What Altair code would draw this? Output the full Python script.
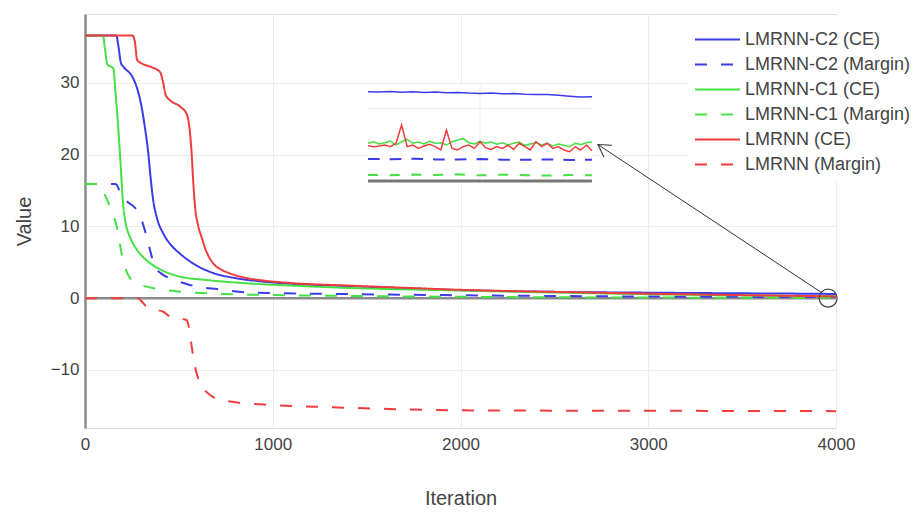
import altair as alt
import pandas as pd

SERIES = ["LMRNN-C2 (CE)", "LMRNN-C2 (Margin)", "LMRNN-C1 (CE)",
          "LMRNN-C1 (Margin)", "LMRNN (CE)", "LMRNN (Margin)"]
BLUE, GREEN, RED = "#3b3be8", "#44e044", "#f03c3c"
COLORS = [BLUE, BLUE, GREEN, GREEN, RED, RED]
DASHES = [[1, 0], [12, 14], [1, 0], [12, 14], [1, 0], [12, 14]]

# ---- main curves (iteration, value) ----
c2_ce_it = [0, 167, 177, 192, 203, 257, 278, 301, 319, 337, 349, 363, 384, 417, 455, 506, 587, 683, 810, 950, 1100, 1400, 1700, 1950, 2200, 2480, 3000, 3500, 3850, 4000]
c2_ce_v = [36.6, 36.6, 35.3, 32.7, 32.3, 30.6, 29.2, 26.7, 23.8, 20.2, 16.9, 13.7, 11.1, 9.0, 7.5, 6.2, 4.65, 3.5, 2.75, 2.3, 2.0, 1.68, 1.38, 1.15, 1.0, 0.88, 0.76, 0.67, 0.615, 0.58]

c2_m_it = [0, 162, 177, 192, 222, 253, 275, 304, 329, 349, 372, 405, 452, 526, 595, 708, 870, 1400, 1900, 2500, 3200, 4000]
c2_m_v = [15.9, 15.9, 15.4, 14.2, 13.5, 12.9, 12.3, 10.7, 8.5, 6.45, 4.35, 3.45, 2.75, 2.1, 1.6, 1.25, 0.8, 0.56, 0.42, 0.3, 0.2, 0.15]

c1_ce_it = [0, 96, 106, 119, 151, 162, 174, 186, 204, 217, 240, 278, 329, 405, 506, 658, 870, 1100, 1400, 1930, 2460, 3000, 3500, 4000]
c1_ce_v = [36.6, 36.6, 34.8, 32.6, 32.0, 28.8, 24.8, 20.2, 12.8, 10.4, 8.5, 6.7, 5.25, 3.95, 3.0, 2.5, 2.05, 1.75, 1.42, 1.1, 0.8, 0.55, 0.38, 0.25]

c1_m_it = [0, 79, 91, 124, 147, 169, 182, 195, 212, 231, 263, 329, 405, 506, 708, 1010, 1520, 2230, 3000, 4000]
c1_m_v = [15.9, 15.9, 15.2, 13.3, 11.7, 10.0, 8.1, 6.25, 4.45, 3.15, 2.3, 1.6, 1.2, 0.9, 0.6, 0.42, 0.28, 0.15, 0.08, 0.04]

l_ce_it = [0, 253, 265, 278, 303, 354, 400, 415, 430, 452, 506, 541, 556, 568, 577, 586, 602, 621, 648, 683, 728, 772, 860, 950, 1100, 1400, 1700, 1950, 2200, 2480, 3000, 3500, 4000]
l_ce_v = [36.6, 36.6, 35.8, 33.2, 32.7, 32.2, 31.5, 30.2, 28.3, 27.6, 26.7, 25.7, 23.8, 20.2, 16.0, 12.8, 10.2, 8.5, 6.4, 4.85, 3.95, 3.45, 2.8, 2.45, 2.1, 1.75, 1.45, 1.2, 1.02, 0.88, 0.62, 0.42, 0.24]

l_m_it = [0, 283, 303, 329, 374, 417, 452, 506, 541, 556, 568, 586, 612, 648, 683, 748, 826, 1003, 1304, 1620, 2100, 3000, 4000]
l_m_v = [0, 0, -0.5, -1.2, -1.6, -1.9, -2.55, -2.85, -3.05, -4.4, -6.7, -9.5, -11.9, -13.1, -13.8, -14.3, -14.6, -14.9, -15.2, -15.45, -15.65, -15.7, -15.75]

# ---- zoomed inset (last iterations) ----
inset_t41 = [3850 + 2.5 * i for i in range(41)]
inset_red = [0.244, 0.237, 0.241, 0.248, 0.237, 0.260, 0.386, 0.237, 0.248, 0.225, 0.241, 0.253, 0.237, 0.214, 0.352, 0.225, 0.214, 0.237, 0.248, 0.225, 0.271, 0.230, 0.218, 0.237, 0.225, 0.248, 0.218, 0.260, 0.237, 0.214, 0.271, 0.237, 0.260, 0.225, 0.237, 0.214, 0.202, 0.237, 0.214, 0.248, 0.209]
inset_green = [0.260, 0.271, 0.255, 0.264, 0.276, 0.248, 0.271, 0.287, 0.260, 0.269, 0.255, 0.274, 0.260, 0.264, 0.248, 0.271, 0.283, 0.292, 0.264, 0.255, 0.274, 0.260, 0.269, 0.253, 0.264, 0.248, 0.260, 0.269, 0.246, 0.255, 0.264, 0.248, 0.260, 0.241, 0.255, 0.246, 0.237, 0.260, 0.251, 0.264, 0.269]
inset_t21 = [3850 + 5 * i for i in range(21)]
inset_blue = [0.616, 0.614, 0.617, 0.612, 0.615, 0.611, 0.613, 0.608, 0.610, 0.606, 0.604, 0.606, 0.601, 0.603, 0.598, 0.596, 0.597, 0.592, 0.585, 0.579, 0.581]
inset_t11 = [3850 + 10 * i for i in range(11)]
inset_blue_m = [0.152, 0.150, 0.153, 0.149, 0.148, 0.151, 0.147, 0.146, 0.149, 0.145, 0.147]
inset_green_m = [0.042, 0.040, 0.044, 0.041, 0.046, 0.039, 0.043, 0.040, 0.038, 0.041, 0.039]
INSET_T = [3850, 3950]
INSET_V = [-0.0138, 0.662]

# annotation: circle on the tail and arrow to the inset
circle_it, circle_v = [3958], [0.0]
arrow_it = [3925, 2732]
arrow_v = [0.74, 21.4]

FONT = "Liberation Sans"
TXT = "#444444"
AXISC = "#8c8c8c"

rows = []
for name, its, vals in [(SERIES[0], c2_ce_it, c2_ce_v), (SERIES[1], c2_m_it, c2_m_v),
                        (SERIES[2], c1_ce_it, c1_ce_v), (SERIES[3], c1_m_it, c1_m_v),
                        (SERIES[4], l_ce_it, l_ce_v), (SERIES[5], l_m_it, l_m_v)]:
    for k, (i, v) in enumerate(zip(its, vals)):
        rows.append({"series": name, "iteration": i, "value": v, "k": k})
df = pd.DataFrame(rows)

xs = alt.Scale(domain=[0, 4000], nice=False, zero=False)
ys = alt.Scale(domain=[-18.1, 39.6], nice=False, zero=False)

x_enc = alt.X("iteration:Q", scale=xs,
              axis=alt.Axis(values=[0, 1000, 2000, 3000, 4000], format="d", grid=True,
                            gridColor="#ececec", domain=False, ticks=False,
                            labelFontSize=17, labelColor=TXT, labelPadding=8,
                            labelFlush=False,
                            title="Iteration", titleFontSize=20, titleColor=TXT,
                            titleFontWeight="normal", titlePadding=36))
y_enc = alt.Y("value:Q", scale=ys,
              axis=alt.Axis(values=[-10, 0, 10, 20, 30], format="d", grid=True,
                            gridColor="#ececec", domain=True, domainColor=AXISC,
                            domainWidth=2.5, ticks=False, labelFontSize=17,
                            labelColor=TXT, labelPadding=6, labelFlush=False,
                            title="Value",
                            titleFontSize=20, titleColor=TXT, titleFontWeight="normal",
                            titlePadding=16))

zero = alt.Chart(pd.DataFrame({"value": [0.0]})).mark_rule(
    color=AXISC, strokeWidth=2.5).encode(y=alt.Y("value:Q", scale=ys))

lines = alt.Chart(df).mark_line(strokeWidth=2, interpolate="monotone").encode(
    x=x_enc, y=y_enc,
    color=alt.Color("series:N", scale=alt.Scale(domain=SERIES, range=COLORS),
                    sort=SERIES, legend=alt.Legend(title=None)),
    strokeDash=alt.StrokeDash("series:N", scale=alt.Scale(domain=SERIES, range=DASHES),
                              sort=SERIES, legend=alt.Legend(title=None)),
    order="k:Q",
)

circle = alt.Chart(pd.DataFrame({"iteration": circle_it, "value": circle_v})).mark_point(
    shape="circle", size=324, filled=False, color="#444444", strokeWidth=1.2, opacity=1
).encode(x=alt.X("iteration:Q", scale=xs), y=alt.Y("value:Q", scale=ys))

arrow = alt.Chart(pd.DataFrame({"iteration": arrow_it, "value": arrow_v, "k": [0, 1]})).mark_line(
    color="#333333", strokeWidth=1).encode(
    x=alt.X("iteration:Q", scale=xs), y=alt.Y("value:Q", scale=ys), order="k:Q")

head = alt.Chart(pd.DataFrame({"iteration": arrow_it[1:], "value": arrow_v[1:]})).mark_point(
    shape="M-1,-0.6L0,0L-1,0.6", size=576, filled=False, color="#333333",
    strokeWidth=1, angle=213.5, opacity=1).encode(
    x=alt.X("iteration:Q", scale=xs), y=alt.Y("value:Q", scale=ys))

main = alt.layer(zero, lines, circle, arrow, head)

# ---- inset with its own scales ----
ixs = alt.Scale(domain=INSET_T, range=[283, 507], nice=False, zero=False)
iys = alt.Scale(domain=INSET_V, range=[169, 71], nice=False, zero=False)


def ix(f="t"):
    return alt.X(f + ":Q", scale=ixs, axis=None)


def iy(f="v"):
    return alt.Y(f + ":Q", scale=iys, axis=None)


bg = alt.Chart(pd.DataFrame({"t": [INSET_T[0]], "t2": [INSET_T[1]],
                             "v": [INSET_V[0]], "v2": [INSET_V[1]]})).mark_rect(
    fill="white").encode(x=ix(), x2="t2:Q", y=iy(), y2="v2:Q")
igrid_v = alt.Chart(pd.DataFrame({"t": [3900], "v": [INSET_V[0]], "v2": [INSET_V[1]]})).mark_rule(
    color="#ececec", strokeWidth=1).encode(x=ix(), y=iy(), y2="v2:Q")
igrid_h = alt.Chart(pd.DataFrame({"t": [INSET_T[0]], "t2": [INSET_T[1]], "v": [0.5]})).mark_rule(
    color="#ececec", strokeWidth=1).encode(x=ix(), x2="t2:Q", y=iy())
izero = alt.Chart(pd.DataFrame({"t": [INSET_T[0]], "t2": [INSET_T[1]], "v": [0.0]})).mark_rule(
    color="#777777", strokeWidth=3).encode(x=ix(), x2="t2:Q", y=iy())


def iline(ts, vs, color, dash=None, width=1.5):
    kw = dict(color=color, strokeWidth=width)
    if dash:
        kw["strokeDash"] = dash
    return alt.Chart(pd.DataFrame({"t": ts, "v": vs})).mark_line(**kw).encode(x=ix(), y=iy())


inset = alt.layer(
    bg, igrid_v, igrid_h, izero,
    iline(inset_t11, inset_green_m, GREEN, [10, 11.7], 2),
    iline(inset_t11, inset_blue_m, BLUE, [11.7, 10], 2),
    iline(inset_t41, inset_green, GREEN),
    iline(inset_t41, inset_red, RED),
    iline(inset_t21, inset_blue, BLUE),
)

chart = alt.layer(main, inset).resolve_scale(x="independent", y="independent").properties(
    width=751, height=414,
    autosize=alt.AutoSizeParams(type="none"),
    padding={"left": 85, "top": 14, "right": 80, "bottom": 88},
    background="white",
).configure_view(stroke=None).configure(font=FONT).configure_legend(
    orient="none", legendX=602, legendY=3, padding=7, fillColor="white",
    symbolType="M-1,0L2.1,0", symbolSize=841, symbolStrokeWidth=2,
    labelFontSize=18, labelColor=TXT, labelFont=FONT, rowPadding=0,
    labelOffset=20, symbolOpacity=1, labelLimit=300,
)

chart.save("out.html", embed_options={"renderer": "svg", "actions": False})
